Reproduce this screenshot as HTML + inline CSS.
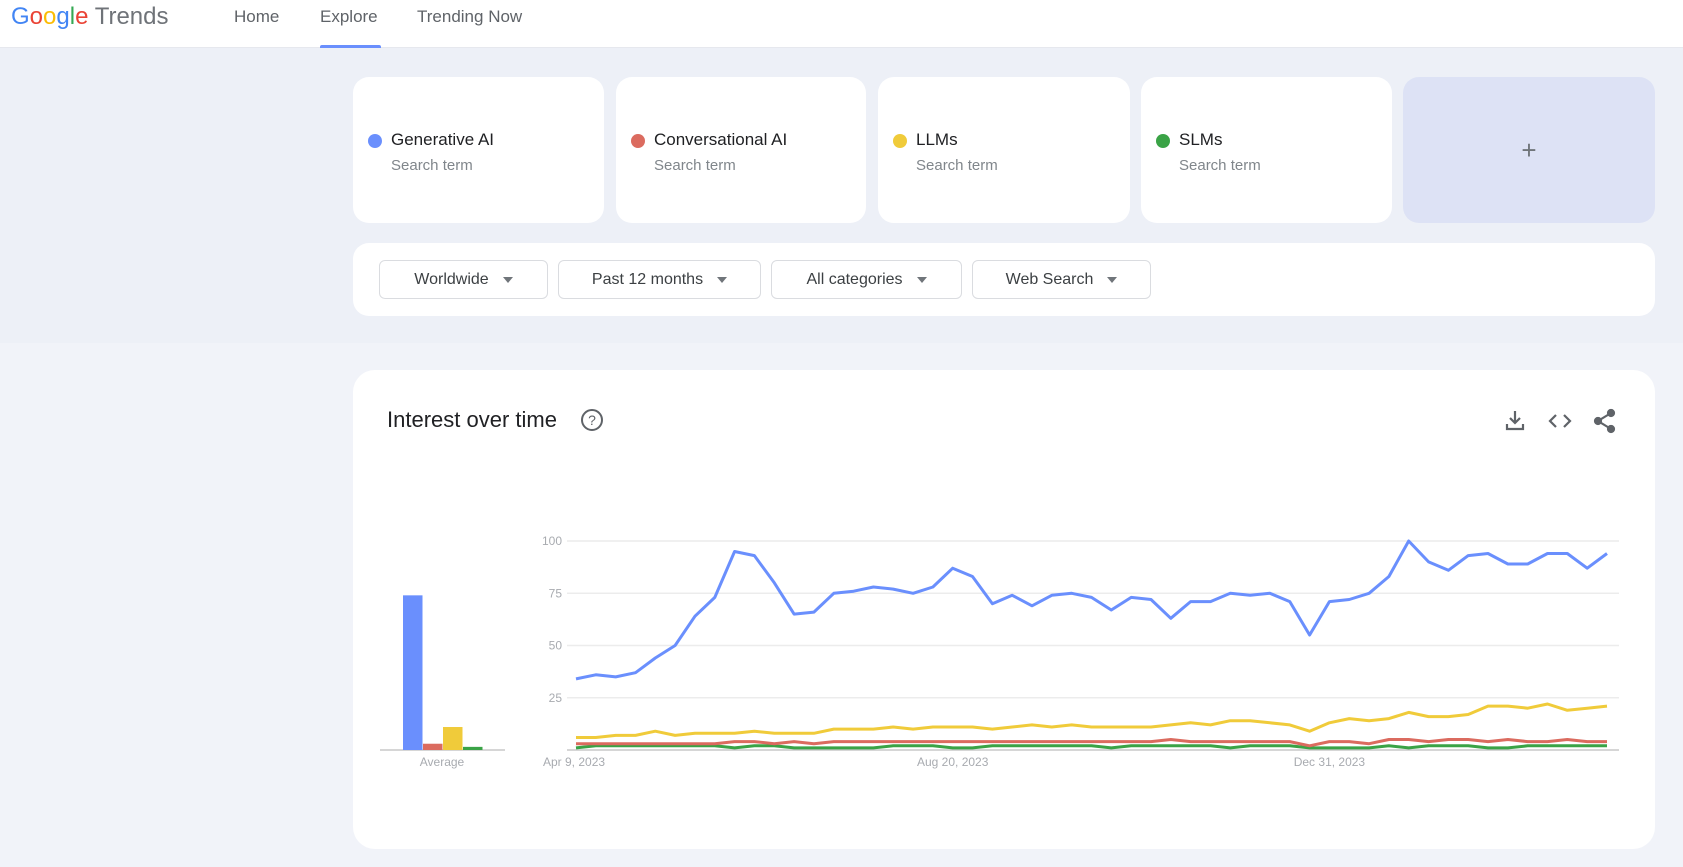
<!DOCTYPE html>
<html><head><meta charset="utf-8">
<style>
*{box-sizing:border-box;margin:0;padding:0}
body{width:1683px;height:867px;position:relative;overflow:hidden;background:#f1f3f9;font-family:"Liberation Sans",sans-serif;color:#3c4043}
.abs{position:absolute}
#header{left:0;top:0;width:1683px;height:48px;background:#fff;border-bottom:1px solid #e6e8ee}
.nav{top:7px;font-size:17px;color:#5f6368}
#band{left:0;top:48px;width:1683px;height:295px;background:#edf0f7}
.card{background:#fff;border-radius:16px;top:77px;height:146px}
.dot{width:14px;height:14px;border-radius:50%;left:15px;top:57px}
.term{left:38px;top:53px;font-size:17px;color:#202124}
.sub{left:38px;top:80px;font-size:15px;color:#80868b}
.dd{top:260px;height:39px;border:1px solid #dadce0;border-radius:6px;background:#fff;font-size:16px;color:#3c4043;display:flex;align-items:center;justify-content:center;gap:14px}
.tri{width:0;height:0;border-left:5px solid transparent;border-right:5px solid transparent;border-top:6px solid #70757a}
</style></head><body>
<div id="header" class="abs">
  <div class="abs" style="left:11px;top:3px;font-size:24px;"><span style="color:#4285f4">G</span><span style="color:#ea4335">o</span><span style="color:#fbbc05">o</span><span style="color:#4285f4">g</span><span style="color:#34a853">l</span><span style="color:#ea4335">e</span> <span style="color:#6f7378">Trends</span></div>
  <div class="abs nav" style="left:234px">Home</div>
  <div class="abs nav" style="left:320px">Explore</div>
  <div class="abs" style="left:320px;top:45px;width:61px;height:4px;background:#6a8ffd;border-radius:2px 2px 0 0"></div>
  <div class="abs nav" style="left:417px">Trending Now</div>
</div>
<div id="band" class="abs"></div>

<div class="abs card" style="left:353px;width:251px"><div class="abs dot" style="background:#6a8ffd"></div><div class="abs term">Generative AI</div><div class="abs sub">Search term</div></div>
<div class="abs card" style="left:616px;width:250px"><div class="abs dot" style="background:#db6b5f"></div><div class="abs term">Conversational AI</div><div class="abs sub">Search term</div></div>
<div class="abs card" style="left:878px;width:252px"><div class="abs dot" style="background:#f0cb3a"></div><div class="abs term">LLMs</div><div class="abs sub">Search term</div></div>
<div class="abs card" style="left:1141px;width:251px"><div class="abs dot" style="background:#3aa346"></div><div class="abs term">SLMs</div><div class="abs sub">Search term</div></div>
<div class="abs card" style="left:1403px;width:252px;background:#dde2f5;display:flex;align-items:center;justify-content:center;font-size:26px;color:#70757a">+</div>

<div class="abs" style="left:353px;top:243px;width:1302px;height:73px;background:#fff;border-radius:16px"></div>
<div class="abs dd" style="left:379px;width:169px">Worldwide<span class="tri"></span></div>
<div class="abs dd" style="left:558px;width:203px">Past 12 months<span class="tri"></span></div>
<div class="abs dd" style="left:771px;width:191px">All categories<span class="tri"></span></div>
<div class="abs dd" style="left:972px;width:179px">Web Search<span class="tri"></span></div>

<div class="abs" style="left:353px;top:370px;width:1302px;height:479px;background:#fff;border-radius:22px"></div>
<div class="abs" style="left:387px;top:407px;font-size:22px;color:#202124">Interest over time</div>
<div class="abs" style="left:581px;top:409px;width:22px;height:22px;border:2px solid #5f6368;border-radius:50%;font-size:14px;text-align:center;line-height:18px;color:#5f6368">?</div>
<svg class="abs" style="left:1502px;top:408px" width="120" height="26">
  <g stroke="#5f6368" stroke-width="2.2" fill="none"><path d="M13 3v12M8 10l5 5 5-5M5 16v5h16v-5"/></g>
  <g stroke="#5f6368" stroke-width="2.2" fill="none"><path d="M54 7l-6 6 6 6M62 7l6 6-6 6"/></g>
  <g stroke="#5f6368" stroke-width="2.2" fill="#5f6368"><path d="M109 5L96 13l13 8" fill="none"/><circle cx="109" cy="5" r="3"/><circle cx="96" cy="13" r="3"/><circle cx="109" cy="21" r="3"/></g>
</svg>

<svg id="chart" class="abs" style="left:0;top:0" width="1683" height="867"></svg>
<script>
const seriesNames=["Generative AI","Conversational AI","LLMs","SLMs"];
const seriesColors=["#6a8ffd","#db6b5f","#f0cb3a","#3aa346"];
const generativeAI=[34,36,35,37,44,50,64,73,95,93,80,65,66,75,76,78,77,75,78,87,83,70,74,69,74,75,73,67,73,72,63,71,71,75,74,75,71,55,71,72,75,83,100,90,86,93,94,89,89,94,94,87,94];
const conversationalAI=[3,3,3,3,3,3,3,3,4,4,3,4,3,4,4,4,4,4,4,4,4,4,4,4,4,4,4,4,4,4,5,4,4,4,4,4,4,2,4,4,3,5,5,4,5,5,4,5,4,4,5,4,4];
const llms=[6,6,7,7,9,7,8,8,8,9,8,8,8,10,10,10,11,10,11,11,11,10,11,12,11,12,11,11,11,11,12,13,12,14,14,13,12,9,13,15,14,15,18,16,16,17,21,21,20,22,19,20,21];
const slms=[1,2,2,2,2,2,2,2,1,2,2,1,1,1,1,1,2,2,2,1,1,2,2,2,2,2,2,1,2,2,2,2,2,1,2,2,2,1,1,1,1,2,1,2,2,2,1,1,2,2,2,2,2];
const averages=[74,3,11,1.5];
const yTicks=[0,25,50,75,100];
const xTickLabels=["Apr 9, 2023","Aug 20, 2023","Dec 31, 2023"];
const xTickIndex=[0,19,38];

const svg=document.getElementById('chart');
const NS='http://www.w3.org/2000/svg';
const nPts=generativeAI.length;
const x0=576,x1=1607,yBase=750,yTop=541;
function xs(i){return x0+(x1-x0)*i/(nPts-1);}
function ys(v){return yBase-(yBase-yTop)*v/100;}
function mk(tag,attrs){const e=document.createElementNS(NS,tag);for(const k in attrs)e.setAttribute(k,attrs[k]);svg.appendChild(e);return e;}

yTicks.forEach(t=>{
  const g=mk('line',{x1:567,x2:1619,y1:ys(t),y2:ys(t),stroke:t===0?'#bdbdbd':'#ececec','stroke-width':t===0?1.2:1.5});
  
  
  if(t>0){const tx=mk('text',{x:562,y:ys(t)+4,'text-anchor':'end','font-size':12,fill:'#a8abb0','font-family':'Liberation Sans, sans-serif'});tx.textContent=t;
  
  }
});
xTickLabels.forEach((l,k)=>{
  const i=xTickIndex[k];
  const tx=mk('text',{x:k===0?543:xs(i),y:766,'text-anchor':k===0?'start':'middle','font-size':12,fill:'#a8abb0','font-family':'Liberation Sans, sans-serif'});
  tx.textContent=l;
  
  
});
const bx0=403,bw=19.5,bgap=0.5;
const ab=mk('line',{x1:380,x2:505,y1:750,y2:750,stroke:'#bdbdbd','stroke-width':1.2});


averages.forEach((v,k)=>{
  const r=mk('rect',{x:bx0+k*(bw+bgap),y:ys(v),width:bw,height:yBase-ys(v),fill:seriesColors[k]});
  
  
});
const avl=mk('text',{x:442,y:766,'text-anchor':'middle','font-size':12,fill:'#a8abb0','font-family':'Liberation Sans, sans-serif'});
avl.textContent='Average';


const allSeries=[generativeAI,conversationalAI,llms,slms];
[3,1,2,0].forEach(k=>{
  const d=allSeries[k].map((v,i)=>(i?'L':'M')+xs(i).toFixed(1)+' '+ys(v).toFixed(1)).join(' ');
  const p=mk('path',{d:d,fill:'none',stroke:seriesColors[k],'stroke-width':3,'stroke-linejoin':'round'});
  
  
});
</script>
</body></html>
